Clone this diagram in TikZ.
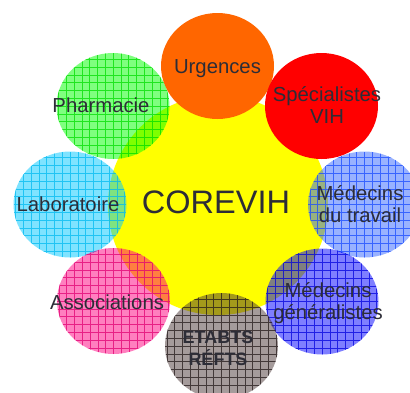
\documentclass[tikz,border=0pt]{standalone}
\usepackage{fontspec}
\setmainfont{Liberation Sans}
\usetikzlibrary{shapes.geometric}
\definecolor{txt}{RGB}{45,45,55}
\definecolor{cyel}{RGB}{255,255,0}
\definecolor{corange}{RGB}{255,102,0}
\definecolor{cred}{RGB}{255,0,0}
\definecolor{cgreen}{RGB}{0,255,0}
\definecolor{cgreenl}{RGB}{0,220,0}
\definecolor{ccyan}{RGB}{0,200,255}
\definecolor{ccyanl}{RGB}{0,185,240}
\definecolor{cpink}{RGB}{255,0,128}
\definecolor{cpinkl}{RGB}{225,0,115}
\definecolor{cgray}{RGB}{75,55,55}
\definecolor{cgrayl}{RGB}{35,25,25}
\definecolor{cblue}{RGB}{0,0,255}
\definecolor{cbluel}{RGB}{0,0,220}
\definecolor{clblue}{RGB}{51,102,255}
\definecolor{clbluel}{RGB}{25,75,255}
\begin{document}
\begin{tikzpicture}[x=1pt,y=-1pt,
  blob/.style={ellipse, minimum width=113pt, minimum height=106pt, inner sep=0pt, draw=none},
  solidblob/.style={blob, fill=#1},
  gridblob/.style 2 args={blob, fill=#1, fill opacity=0.5,
    path picture={\draw[#2, draw opacity=0.75, line width=0.45pt, step=7.8pt]
      (path picture bounding box.south west) grid (path picture bounding box.north east);}},
  lbl/.style={text=txt, font=\fontsize{20.3}{22}\selectfont, align=center, inner sep=0pt, anchor=base}]
\useasboundingbox (0,0) rectangle (410,392);
\node[circle, fill=cyel, minimum size=220pt, inner sep=0pt] (core) at (218,205) {};
\node[solidblob=corange] (urg) at (217.5,66) {};
\node[solidblob=cred] (spe) at (321.5,106) {};
\node[gridblob={cgreen}{cgreenl}] (pha) at (113,106) {};
\node[gridblob={ccyan}{ccyanl}] (lab) at (70,204.5) {};
\node[gridblob={cpink}{cpinkl}] (ass) at (113.5,301) {};
\node[gridblob={clblue}{clbluel}] (mdt) at (364.5,204.5) {};
\node[gridblob={cblue}{cbluel}] (mdg) at (322,301.5) {};
\node[gridblob={cgray}{cgrayl}] (eta) at (221.5,346) {};
\node[lbl] (turg) at (217.5,73) {Urgences};
\node[lbl] (tspe) at (327,123) {Spécialistes\\VIH};
\node[lbl] (tpha) at (101,112) {Pharmacie};
\node[lbl] (tlab) at (68,211) {Laboratoire};
\node[lbl, font=\fontsize{32.5}{36}\selectfont] (tcore) at (216,213) {COREVIH};
\node[lbl] (tmdt) at (360,222) {Médecins\\du travail};
\node[lbl] (tmdg) at (328,319) {Médecins\\généralistes};
\node[lbl] (tass) at (107,309) {Associations};
\node[lbl, font=\fontsize{18}{22}\selectfont\bfseries] (teta) at (218,365) {ETABTS\\RÉFTS};
\end{tikzpicture}
\end{document}
